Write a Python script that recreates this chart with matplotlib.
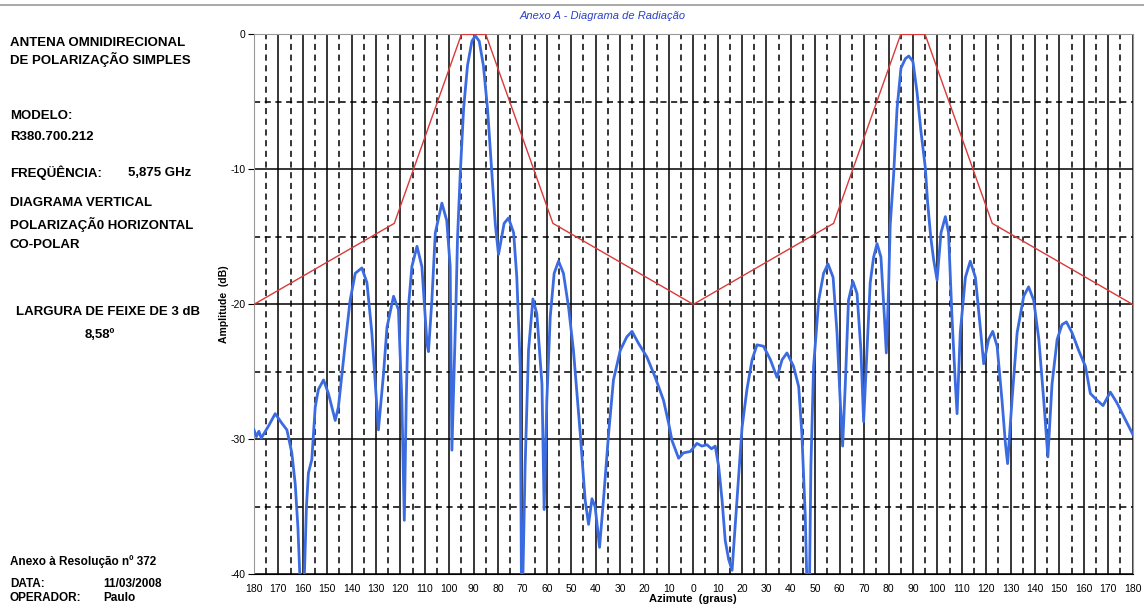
import matplotlib.pyplot as plt
from matplotlib.ticker import FixedLocator, FuncFormatter

plt.rcParams['font.family'] = ['Liberation Sans', 'DejaVu Sans']
plt.rcParams['axes.unicode_minus'] = False

# measured pattern (azimute, amplitude dB)
az = [
    -180, -179, -178, -177, -176, -174, -171.3, -168.6, -166.5, -164.5,
    -163.1, -162, -161, -159.5, -158.5, -157.7, -156.3, -154.9, -153.6, -151.5,
    -149.5, -146.7, -145.4, -142.6, -140.6, -138.5, -135.8, -133.7, -131.7, -129.0,
    -126.9, -125.5, -122.8, -120.8, -119.4, -118.4, -117.6, -116.7, -115.3, -113.2,
    -111.2, -109.1, -108.5, -107.1, -105.7, -103.0, -101.0, -99.6, -98.9, -97.3,
    -96.6, -95.5, -94.1, -92.5, -90.7, -89.3, -87.7, -86.0, -84.3, -82.5,
    -81.1, -79.8, -77.5, -75.7, -73.6, -72.3, -70.9, -70.4, -69.9, -68.9,
    -67.5, -65.7, -64.1, -62.0, -61.1, -60.0, -58.6, -57.0, -55.2, -53.2,
    -51.1, -49.1, -46.3, -44.3, -42.9, -41.5, -40.2, -38.4, -36.8, -34.7,
    -32.7, -29.9, -27.2, -25.1, -22.4, -19.0, -15.6, -12.2, -10.1, -8.7,
    -6.0, -4.0, -1.2, 1.5, 3.5, 5.6, 7.5, 9.0, 10.4, 11.8,
    13.1, 14.5, 15.9, 17.9, 20.0, 22.0, 24.1, 26.1, 28.8, 31.6,
    34.3, 36.4, 38.4, 41.1, 43.2, 44.5, 45.9, 46.6, 47.6, 48.2,
    49.3, 51.4, 53.4, 55.2, 57.3, 58.9, 60.2, 61.2, 62.3, 63.6,
    65.4, 67.1, 68.7, 69.8, 71.2, 72.5, 73.9, 75.3, 76.9, 78.3,
    79.1, 80.0, 80.7, 82.1, 83.5, 85.1, 86.9, 88.3, 90.0, 91.7,
    93.3, 95.1, 96.0, 97.3, 98.5, 99.9, 101.5, 103.3, 104.6, 106.0,
    107.4, 108.1, 109.4, 111.5, 113.5, 115.6, 117.6, 119.0, 121.0, 122.7,
    124.5, 126.5, 127.9, 128.8, 130.6, 132.7, 135.4, 137.4, 139.5, 141.6,
    143.6, 145.3, 147.0, 149.1, 151.1, 152.9, 155.2, 157.9, 160.7, 162.7,
    165.4, 167.9, 170.9, 173.6, 176.4, 180,
]
amp = [
    -29.3, -29.8, -29.4, -29.9, -29.6, -29.0, -28.1, -28.8, -29.3, -31.0,
    -33.3, -36.5, -41, -41, -35, -32.5, -31.5, -27.6, -26.3, -25.6,
    -26.6, -28.6, -27.6, -22.9, -19.7, -17.7, -17.3, -18.4, -22.1, -29.3,
    -25.1, -21.7, -19.4, -20.4, -27.1, -36.0, -27.1, -20.2, -17.2, -15.7,
    -17.2, -22.9, -23.5, -19.7, -14.7, -12.5, -13.8, -17.2, -30.8, -20.5,
    -15.1, -10.4, -5.5, -2.3, -0.5, -0.1, -0.5, -2.3, -5.5, -10.4,
    -14.1, -16.3, -14.0, -13.6, -14.7, -18.0, -24.6, -41, -41, -32.0,
    -23.4, -19.6, -20.7, -25.9, -35.2, -27.1, -20.9, -17.7, -16.8, -17.7,
    -20.2, -23.4, -29.6, -34.5, -36.3, -34.4, -35.0, -38.0, -34.5, -29.6,
    -25.6, -23.4, -22.4, -22.0, -22.9, -23.9, -25.4, -27.1, -28.8, -30.1,
    -31.4, -31.0, -30.9, -30.3, -30.5, -30.4, -30.7, -30.5, -32.0, -34.5,
    -37.5, -38.9, -39.7, -34.5, -29.1, -26.3, -24.1, -23.0, -23.1, -24.1,
    -25.4, -24.1, -23.6, -24.6, -26.1, -29.6, -35.7, -41, -41, -32.0,
    -24.6, -19.7, -17.7, -17.0, -18.0, -22.1, -27.1, -30.5, -25.9, -19.7,
    -18.3, -19.2, -23.4, -28.7, -23.4, -18.4, -16.5, -15.5, -16.5, -20.9,
    -23.6, -19.0, -14.1, -10.4, -5.5, -2.5, -1.8, -1.6, -2.0, -4.3,
    -7.2, -9.9, -12.4, -15.0, -16.7, -18.2, -14.7, -13.5, -14.7, -20.9,
    -25.9, -28.1, -22.1, -18.0, -16.8, -18.0, -21.7, -24.4, -22.6, -22.0,
    -23.1, -27.1, -30.3, -31.8, -27.1, -22.1, -19.4, -18.7, -19.7, -22.6,
    -27.1, -31.3, -25.9, -22.6, -21.5, -21.3, -22.1, -23.4, -24.6, -26.6,
    -27.1, -27.5, -26.5, -27.3, -28.3, -29.6,
]

# mask (envelope)
mask_az = [-180, -122.5, -95, -85, -57.5, 0, 57.5, 85, 95, 122.5, 180]
mask_db = [-20, -14, 0, 0, -14, -20, -14, 0, 0, -14, -20]

fig = plt.figure(figsize=(11.44, 6.08), dpi=100)
ax = fig.add_axes([0.222, 0.0554, 0.768, 0.888])

ax.set_xlim(-180, 180)
ax.set_ylim(-40, 0)

ax.xaxis.set_major_locator(FixedLocator(range(-180, 181, 10)))
ax.xaxis.set_minor_locator(FixedLocator(range(-175, 180, 10)))
ax.xaxis.set_major_formatter(FuncFormatter(lambda v, p: "%d" % abs(v)))
ax.yaxis.set_major_locator(FixedLocator(range(-40, 1, 10)))
ax.yaxis.set_minor_locator(FixedLocator(range(-35, 0, 10)))

ax.grid(which='major', color='black', lw=1.1, ls='-')
ax.grid(which='minor', color='black', lw=1.1, ls=(0, (4, 3)))
ax.set_axisbelow(True)

ax.plot(mask_az, mask_db, color='#d83a3a', lw=1.0, zorder=3)
ax.plot(az, amp, color='#3b6be0', lw=2.0, zorder=4)

for s in ['top', 'left', 'right']:
    ax.spines[s].set_color('#999999')
ax.spines['bottom'].set_color('black')

ax.tick_params(axis='x', which='both', length=0, labelsize=7.5, pad=7)
ax.tick_params(axis='y', which='major', length=4, labelsize=7.5, pad=2, color='black')
ax.tick_params(axis='y', which='minor', length=0)

ax.set_xlabel("Azimute  (graus)", fontsize=8, fontweight='bold', labelpad=0)
ax.set_ylabel("Amplitude  (dB)", fontsize=7.5, fontweight='bold', labelpad=1)

fig.text(0.527, 0.973, "Anexo A - Diagrama de Radiação", fontsize=8, style='italic',
         color='#2a3fc8', ha='center', va='center')
fig.add_artist(plt.Line2D([0, 1], [0.992, 0.992], color='#999999', lw=1.2))

def left(x, y, s, size=9.5, **kw):
    fig.text(x / 1144, 1 - y / 608, s, va='center', fontsize=size,
             fontweight='bold', **kw)

left(10, 43, "ANTENA OMNIDIRECIONAL")
left(10, 59, "DE POLARIZAÇÃO SIMPLES")
left(10, 116, "MODELO:")
left(10, 137, "R380.700.212")
left(10, 173, "FREQÜÊNCIA:")
left(128, 173, "5,875 GHz")
left(10, 203, "DIAGRAMA VERTICAL")
left(10, 224, "POLARIZAÇÃ0 HORIZONTAL")
left(10, 245, "CO-POLAR")
left(108, 312, "LARGURA DE FEIXE DE 3 dB", ha='center')
left(100, 335, "8,58º", ha='center')
left(10, 562, "Anexo à Resolução nº 372", size=8.5)
left(10, 584, "DATA:", size=8.5)
left(103, 584, "11/03/2008", size=8.5)
left(10, 598, "OPERADOR:", size=8.5)
left(103, 598, "Paulo", size=8.5)

fig.savefig("out.png", dpi=100)
